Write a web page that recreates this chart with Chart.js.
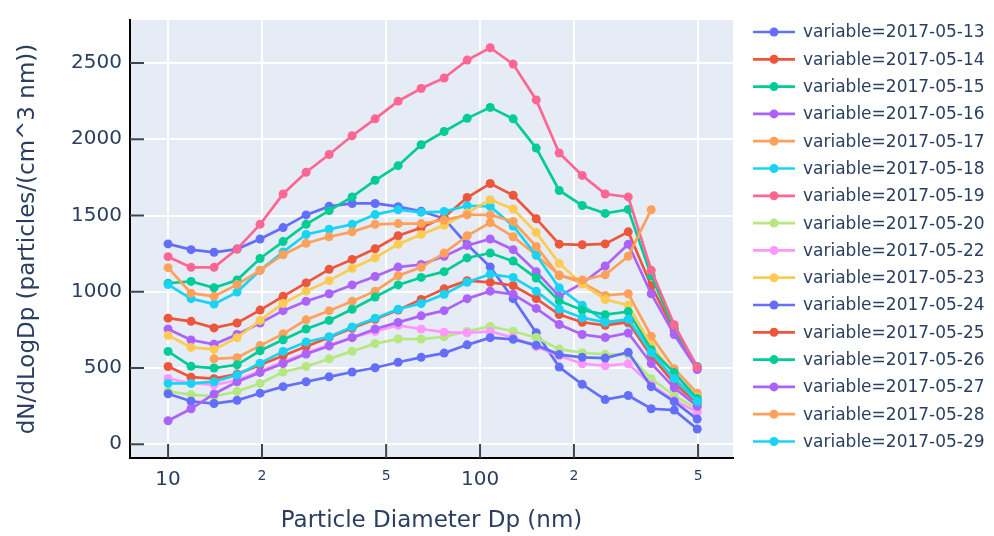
<!DOCTYPE html>
<html><head><meta charset="utf-8">
<script src="https://cdn.jsdelivr.net/npm/chart.js@4.4.1/dist/chart.umd.min.js"></script>
<style>html,body{margin:0;padding:0;background:#fff;} #c{display:block;}</style>
</head><body>
<canvas id="c" width="994" height="536" style="width:994px;height:536px"></canvas>
<script>
const diameters = [10.0, 11.85, 14.04, 16.64, 19.72, 23.37, 27.70, 32.83, 38.90, 46.10, 54.63, 64.75, 76.73, 90.93, 107.8, 127.7, 151.4, 179.4, 212.6, 251.9, 298.6, 353.8, 419.3, 496.9];

const seriesNames = ['variable=2017-05-13','variable=2017-05-14','variable=2017-05-15','variable=2017-05-16','variable=2017-05-17','variable=2017-05-18','variable=2017-05-19','variable=2017-05-20','variable=2017-05-22','variable=2017-05-23','variable=2017-05-24','variable=2017-05-25','variable=2017-05-26','variable=2017-05-27','variable=2017-05-28','variable=2017-05-29'];

const v0513 = [1314,1276,1259,1280,1346,1421,1504,1560,1579,1579,1558,1528,1480,1310,1163,955,731,506,393,293,320,233,224,100];
const v0514 = [827,806,763,795,880,970,1058,1147,1212,1282,1367,1419,1489,1618,1710,1633,1479,1312,1308,1314,1393,1040,745,500];
const v0515 = [1056,1068,1026,1077,1218,1329,1442,1532,1622,1731,1827,1964,2051,2137,2209,2134,1942,1664,1566,1514,1540,1105,760,510];
const v0516 = [756,684,656,720,795,876,938,987,1045,1100,1162,1179,1233,1304,1346,1276,1132,970,1056,1169,1312,987,720,490];
const v0517 = [null,null,560,568,647,724,816,876,938,1004,1105,1160,1254,1367,1453,1361,1240,1110,1060,976,987,709,496,335];
const v0518 = [1047,955,919,998,1141,1261,1376,1410,1442,1506,1538,1521,1526,1564,1560,1431,1239,1026,912,806,795,600,430,290];
const v0519 = [1230,1160,1160,1280,1442,1641,1784,1900,2023,2134,2250,2333,2402,2519,2600,2493,2258,1910,1763,1641,1622,1141,784,506];
const v0520 = [346,325,314,346,399,474,510,560,610,660,690,690,705,740,773,741,700,624,600,590,590,430,320,230];
const v0522 = [431,400,390,420,480,540,600,650,700,740,780,756,735,731,740,700,640,580,528,515,528,390,290,210];
const v0523 = [714,635,622,699,812,923,1004,1073,1154,1223,1312,1376,1436,1517,1603,1543,1388,1186,1051,949,912,650,460,310];
const v0524 = [331,282,267,288,335,378,410,442,474,502,538,570,598,652,699,688,650,588,570,565,603,378,280,165];
const v0525 = [510,440,430,460,520,580,641,700,760,820,880,950,1019,1073,1062,1041,955,851,800,780,800,580,400,270];
const v0526 = [609,511,500,521,613,685,756,812,885,966,1045,1094,1132,1222,1254,1201,1090,940,880,850,870,620,470,300];
const v0527 = [154,233,330,410,470,530,592,645,699,756,799,842,876,955,1004,983,891,785,720,700,730,530,370,250];
const v0528 = [1158,991,970,1047,1140,1243,1318,1361,1393,1442,1447,1447,1470,1504,1504,1461,1297,1105,1077,1111,1233,1538,null,null];
const v0529 = [399,399,410,455,532,609,671,705,769,827,885,923,983,1062,1115,1094,1004,887,830,800,820,600,430,280];

const seriesValues = [v0513,v0514,v0515,v0516,v0517,v0518,v0519,v0520,v0522,v0523,v0524,v0525,v0526,v0527,v0528,v0529];
const colors = ['#636EFA','#EF553B','#00CC96','#AB63FA','#FFA15A','#19D3F3','#FF6692','#B6E880','#FF97FF','#FECB52','#636EFA','#EF553B','#00CC96','#AB63FA','#FFA15A','#19D3F3'];

const yTicks = [0,500,1000,1500,2000,2500];
const xTicks = [10,20,50,100,200,500];
const xTickLabels = ['10','2','5','100','2','5'];

const FONT = 'DejaVu Sans';
const TEXT = '#2a3f5f';

const plotBg = {
  id:'plotBg',
  beforeDraw(chart){
    const {ctx, chartArea:a} = chart;
    ctx.save(); ctx.fillStyle='#E5ECF6';
    ctx.fillRect(a.left,a.top,a.right-a.left,a.bottom-a.top);
    ctx.restore();
  }
};
const insideTicks = {
  id:'insideTicks',
  beforeDatasetsDraw(chart){
    const {ctx, chartArea:a, scales} = chart;
    ctx.save(); ctx.strokeStyle='#444'; ctx.lineWidth=2;
    yTicks.forEach(v=>{const y=scales.y.getPixelForValue(v); ctx.beginPath(); ctx.moveTo(a.left,y); ctx.lineTo(a.left+14,y); ctx.stroke();});
    xTicks.forEach(v=>{const x=scales.x.getPixelForValue(v); ctx.beginPath(); ctx.moveTo(x,a.bottom); ctx.lineTo(x,a.bottom-14); ctx.stroke();});
    ctx.restore();
  }
};
const legendPlugin = {
  id:'customLegend',
  afterDraw(chart){
    const ctx = chart.ctx;
    ctx.save();
    ctx.font = '17px "' + FONT + '"';
    ctx.textBaseline='middle'; ctx.textAlign='left';
    chart.data.datasets.forEach((ds,i)=>{
      const y = 32 + 27.3*i;
      ctx.strokeStyle = ds.borderColor; ctx.lineWidth = 2.7;
      ctx.beginPath(); ctx.moveTo(753,y); ctx.lineTo(795,y); ctx.stroke();
      ctx.fillStyle = ds.borderColor;
      ctx.beginPath(); ctx.arc(774,y,4.5,0,Math.PI*2); ctx.fill();
      ctx.fillStyle = TEXT;
      ctx.fillText(ds.label, 803, y+1);
    });
    ctx.restore();
  }
};

new Chart(document.getElementById('c'), {
  type:'line',
  data:{
    datasets: seriesValues.map((vals,i)=>({
      label: seriesNames[i],
      data: diameters.map((d,j)=>({x:d, y:vals[j]})),
      borderColor: colors[i], backgroundColor: colors[i],
      pointBackgroundColor: colors[i], pointBorderColor: colors[i],
      borderWidth: 2.7, pointRadius: 4.5, pointBorderWidth: 0,
      tension: 0, spanGaps: false, order: seriesValues.length - i
    }))
  },
  options:{
    responsive:false, animation:false, devicePixelRatio:1,
    layout:{padding:{top:10,right:261,bottom:0,left:0}},
    plugins:{legend:{display:false}, tooltip:{enabled:false}},
    scales:{
      x:{
        type:'logarithmic', min:7.55, max:647,
        afterBuildTicks:(s)=>{ s.ticks = xTicks.map(v=>({value:v})); },
        afterFit:(s)=>{ s.height = 78; },
        grid:{color:'#ffffff', lineWidth:2, drawTicks:false},
        border:{display:true, color:'#000', width:2},
        ticks:{
          autoSkip:false, maxRotation:0, minRotation:0, padding:10, color:TEXT,
          font:(c)=>({family:FONT, size:(c.tick && (c.tick.value===10 || c.tick.value===100)) ? 20 : 14}),
          callback:(v)=>{ const k = xTicks.indexOf(v); return k>=0 ? xTickLabels[k] : ''; }
        },
        title:{display:true, text:'Particle Diameter Dp (nm)', color:TEXT, font:{family:FONT, size:23}, padding:{top:0,bottom:1}}
      },
      y:{
        type:'linear', min:-90, max:2782,
        afterBuildTicks:(s)=>{ s.ticks = yTicks.map(v=>({value:v})); },
        afterFit:(s)=>{ s.width = 130; },
        grid:{color:'#ffffff', lineWidth:2, drawTicks:false},
        border:{display:true, color:'#000', width:2},
        ticks:{padding:8, color:TEXT, font:{family:FONT, size:20}, callback:(v)=>String(v)},
        title:{display:true, text:'dN/dLogDp (particles/(cm^3 nm))', color:TEXT, font:{family:FONT, size:23}, padding:{top:14,bottom:0}}
      }
    }
  },
  plugins:[plotBg, insideTicks, legendPlugin]
});
</script>
</body></html>
